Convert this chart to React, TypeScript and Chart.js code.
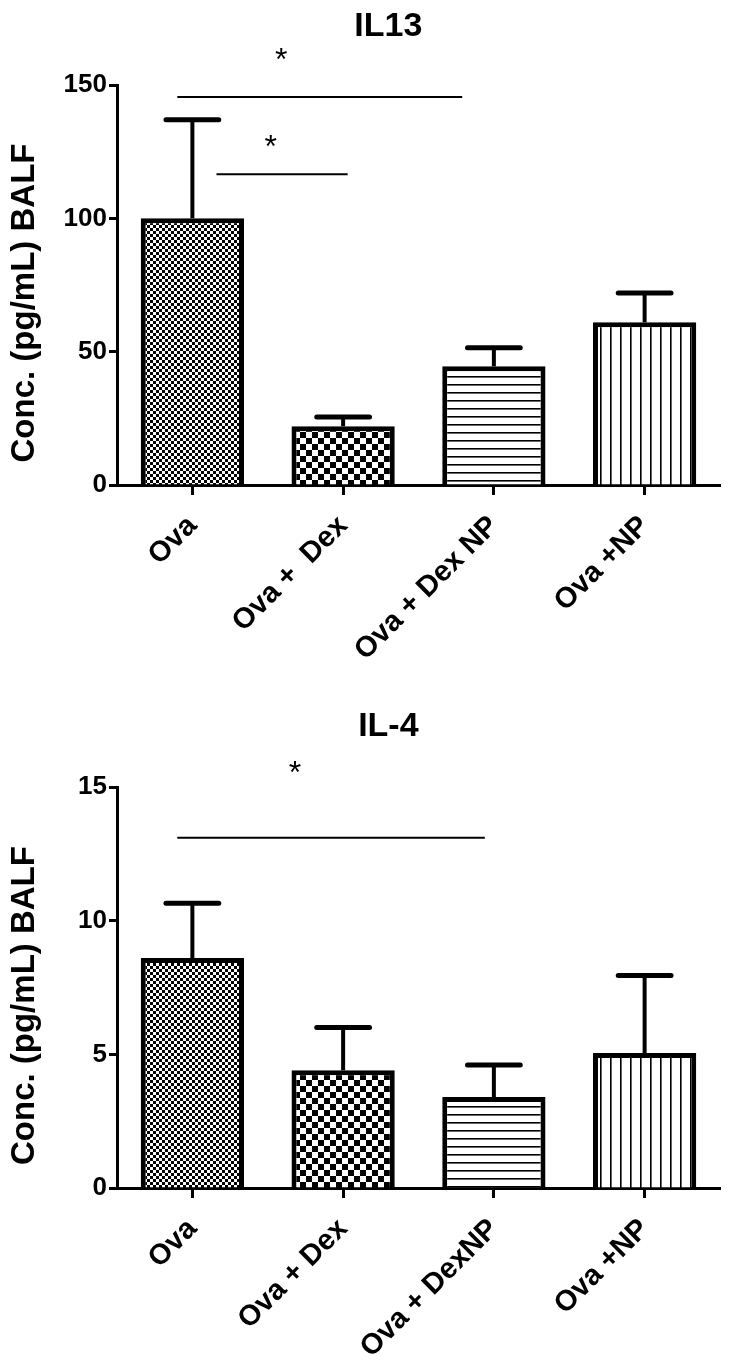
import React, { useEffect, useRef } from "react";
import { Chart, registerables } from "chart.js";

Chart.register(...registerables);

// ---------- IL13 panel data ----------
const il13Title = "IL13";
const il13Categories = ["Ova", "Ova +  Dex", "Ova + Dex NP", "Ova +NP"];
const il13Means = [100, 22, 44.5, 61];
const il13ErrTop = [137, 25.5, 51.5, 72];
const il13YTicks = [0, 50, 100, 150];
const il13YMax = 150;
// significance lines: [from category position, to category position, value]
const il13SigLines = [
  [-0.1, 1.79, 145.5],
  [0.16, 1.03, 116.5],
];
// stars: [category position, value]
const il13Stars = [
  [0.59, 161],
  [0.52, 128.5],
];

// ---------- IL-4 panel data ----------
const il4Title = "IL-4";
const il4Categories = ["Ova", "Ova + Dex", "Ova + DexNP", "Ova +NP"];
const il4Means = [8.6, 4.4, 3.4, 5.05];
const il4ErrTop = [10.65, 6.0, 4.6, 7.95];
const il4YTicks = [0, 5, 10, 15];
const il4YMax = 15;
const il4SigLines = [[-0.1, 1.94, 13.1]];
const il4Stars = [[0.68, 15.7]];

const yTitle = "Conc. (pg/mL) BALF";
const fillKinds = ["fineCheck", "coarseCheck", "hLines", "vLines"];

const FONT = "'Liberation Sans', Arial, Helvetica, sans-serif";

function makePattern(ctx: CanvasRenderingContext2D, kind: string): CanvasPattern | string {
  const c = document.createElement("canvas");
  const g = c.getContext("2d")!;
  if (kind === "fineCheck") {
    c.width = 6; c.height = 6;
    g.fillStyle = "#fff"; g.fillRect(0, 0, 6, 6);
    g.fillStyle = "#000"; g.fillRect(0, 0, 3, 3); g.fillRect(3, 3, 3, 3);
  } else if (kind === "coarseCheck") {
    c.width = 12; c.height = 12;
    g.fillStyle = "#fff"; g.fillRect(0, 0, 12, 12);
    g.fillStyle = "#000"; g.fillRect(0, 0, 6, 6); g.fillRect(6, 6, 6, 6);
  } else if (kind === "hLines") {
    c.width = 8; c.height = 8;
    g.fillStyle = "#fff"; g.fillRect(0, 0, 8, 8);
    g.fillStyle = "#000"; g.fillRect(0, 0, 8, 1.6);
  } else {
    c.width = 10; c.height = 10;
    g.fillStyle = "#fff"; g.fillRect(0, 0, 10, 10);
    g.fillStyle = "#000"; g.fillRect(0, 0, 1.6, 10);
  }
  return ctx.createPattern(c, "repeat") || "#fff";
}

type PanelProps = {
  title: string;
  categories: string[];
  means: number[];
  errTop: number[];
  yTicks: number[];
  yMax: number;
  sigLines: number[][];
  stars: number[][];
  height: number;
  padTop: number;
  xAxisHeight: number;
  titleY: number;
};

function BarPanel(p: PanelProps) {
  const ref = useRef<HTMLCanvasElement>(null);
  useEffect(() => {
    const canvas = ref.current!;
    const ctx0 = canvas.getContext("2d")!;
    const fills = fillKinds.map((k) => makePattern(ctx0, k));

    const overlay = {
      id: "overlay",
      afterDatasetsDraw(chart: any) {
        const { ctx, scales, chartArea } = chart;
        const x = scales.x;
        const y = scales.y;
        const catW = x.getPixelForValue(1) - x.getPixelForValue(0);
        ctx.save();
        ctx.strokeStyle = "#000";
        // error bars
        p.means.forEach((m, i) => {
          const px = x.getPixelForValue(i);
          const yTop = y.getPixelForValue(p.errTop[i]);
          const yBar = y.getPixelForValue(m);
          ctx.lineWidth = 4;
          ctx.lineCap = "butt";
          ctx.beginPath();
          ctx.moveTo(px, yBar);
          ctx.lineTo(px, yTop);
          ctx.stroke();
          ctx.lineWidth = 5;
          ctx.lineCap = "round";
          const half = catW * 0.175;
          ctx.beginPath();
          ctx.moveTo(px - half, yTop);
          ctx.lineTo(px + half, yTop);
          ctx.stroke();
        });
        // significance lines
        ctx.lineWidth = 2;
        ctx.lineCap = "butt";
        p.sigLines.forEach(([a, b, v]) => {
          const yy = y.getPixelForValue(v);
          ctx.beginPath();
          ctx.moveTo(x.getPixelForValue(a), yy);
          ctx.lineTo(x.getPixelForValue(b), yy);
          ctx.stroke();
        });
        // stars
        ctx.fillStyle = "#000";
        ctx.font = `normal 32px ${FONT}`;
        ctx.textAlign = "center";
        ctx.textBaseline = "middle";
        p.stars.forEach(([a, v]) => {
          ctx.fillText("*", x.getPixelForValue(a), y.getPixelForValue(v) + 6);
        });
        // title
        ctx.font = `bold 34px ${FONT}`;
        ctx.textBaseline = "middle";
        ctx.fillText(p.title, chartArea.left + chartArea.width * 0.45, p.titleY);
        // y-axis title
        ctx.save();
        ctx.translate(25, chartArea.top + chartArea.height * 0.545);
        ctx.rotate(-Math.PI / 2);
        ctx.font = `bold 33px ${FONT}`;
        ctx.textAlign = "center";
        ctx.textBaseline = "middle";
        ctx.fillText(yTitle, 0, 0);
        ctx.restore();
        ctx.restore();
      },
    };

    const chart = new Chart(canvas, {
      type: "bar",
      data: {
        labels: p.categories,
        datasets: [
          {
            data: p.means,
            backgroundColor: fills as any,
            borderColor: "#000",
            borderWidth: 5,
            borderSkipped: "bottom",
            barPercentage: 0.685,
            categoryPercentage: 1,
          },
        ],
      },
      options: {
        responsive: false,
        animation: false,
        devicePixelRatio: 1,
        layout: { padding: { top: p.padTop, right: 10, left: 0, bottom: 0 } },
        plugins: {
          legend: { display: false },
          title: { display: false },
          tooltip: { enabled: false },
        },
        scales: {
          x: {
            grid: {
              display: true,
              drawOnChartArea: false,
              drawTicks: true,
              tickLength: 10,
              tickWidth: 3,
              tickColor: "#000",
              offset: false,
            },
            border: { display: true, color: "#000", width: 3 },
            ticks: {
              color: "#000",
              font: { family: FONT, size: 29, weight: "bold" },
              minRotation: 45,
              maxRotation: 45,
              autoSkip: false,
              padding: 14,
            },
            afterFit: (s: any) => {
              s.height = p.xAxisHeight;
            },
          },
          y: {
            min: 0,
            max: p.yMax,
            afterBuildTicks: (s: any) => {
              s.ticks = p.yTicks.map((v) => ({ value: v }));
            },
            grid: {
              drawOnChartArea: false,
              drawTicks: true,
              tickLength: 8,
              tickWidth: 3,
              tickColor: "#000",
            },
            border: { display: true, color: "#000", width: 3 },
            ticks: {
              color: "#000",
              font: { family: FONT, size: 26, weight: "bold" },
              padding: 2,
            },
            title: { display: false },
            afterFit: (s: any) => {
              s.width = 117;
            },
          },
        },
      },
      plugins: [overlay],
    });
    return () => chart.destroy();
  }, []);
  return <canvas ref={ref} width={730} height={p.height} style={{ display: "block", width: 730, height: p.height }} />;
}

export default function App() {
  return (
    <div style={{ width: 730, margin: -8 }}>
      <BarPanel
        title={il13Title}
        categories={il13Categories}
        means={il13Means}
        errTop={il13ErrTop}
        yTicks={il13YTicks}
        yMax={il13YMax}
        sigLines={il13SigLines}
        stars={il13Stars}
        height={690}
        padTop={85}
        xAxisHeight={205}
        titleY={27}
      />
      <BarPanel
        title={il4Title}
        categories={il4Categories}
        means={il4Means}
        errTop={il4ErrTop}
        yTicks={il4YTicks}
        yMax={il4YMax}
        sigLines={il4SigLines}
        stars={il4Stars}
        height={679}
        padTop={97}
        xAxisHeight={181}
        titleY={37}
      />
    </div>
  );
}
